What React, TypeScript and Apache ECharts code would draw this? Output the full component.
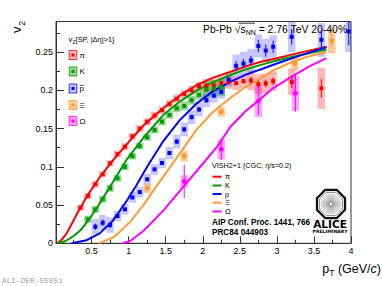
import React, { useEffect, useRef } from "react";
import * as echarts from "echarts";

// ---------- axes ----------
const xMajor = [0.5, 1, 1.5, 2, 2.5, 3, 3.5, 4];
const xMinor = [0.25, 0.75, 1.25, 1.75, 2.25, 2.75, 3.25, 3.75];
const yMajor = [0, 0.05, 0.1, 0.15, 0.2, 0.25];
const yMinor = [0.025, 0.075, 0.125, 0.175, 0.225, 0.275];

// ---------- pions ----------
const piPt = [0.35, 0.45, 0.55, 0.65, 0.75, 0.85, 0.95, 1.05, 1.15, 1.25, 1.35, 1.45, 1.55, 1.65, 1.75, 1.85, 1.95, 2.05, 2.15, 2.25, 2.35, 2.45, 2.55, 2.65, 2.75, 2.85, 2.95, 3.2, 3.6];
const piV2 = [0.0465, 0.0618, 0.0771, 0.0902, 0.1046, 0.1167, 0.1263, 0.14, 0.15, 0.159, 0.167, 0.174, 0.182, 0.189, 0.195, 0.2, 0.205, 0.206, 0.2065, 0.2095, 0.211, 0.2095, 0.212, 0.213, 0.208, 0.209, 0.212, 0.211, 0.2026];
const piSys = [0.004, 0.004, 0.004, 0.004, 0.004, 0.0045, 0.0045, 0.0045, 0.0045, 0.0045, 0.005, 0.005, 0.005, 0.0055, 0.0055, 0.006, 0.006, 0.009, 0.009, 0.009, 0.009, 0.009, 0.009, 0.013, 0.013, 0.013, 0.013, 0.017, 0.027];
const piStat = [0.001, 0.001, 0.001, 0.001, 0.001, 0.001, 0.001, 0.001, 0.001, 0.0015, 0.0015, 0.0015, 0.0015, 0.002, 0.002, 0.002, 0.002, 0.003, 0.003, 0.003, 0.003, 0.003, 0.003, 0.005, 0.005, 0.005, 0.005, 0.008, 0.012];

// ---------- kaons ----------
const kPt = [0.45, 0.55, 0.65, 0.75, 0.85, 0.95, 1.05, 1.15, 1.25, 1.35, 1.45, 1.55, 1.65, 1.75, 1.85, 1.95, 2.05, 2.15, 2.25];
const kV2 = [0.0314, 0.0444, 0.0575, 0.0719, 0.085, 0.1, 0.114, 0.127, 0.1386, 0.148, 0.159, 0.1677, 0.1765, 0.1795, 0.187, 0.194, 0.201, 0.2026, 0.204];
const kSys = [0.0045, 0.0045, 0.0045, 0.0045, 0.0045, 0.0045, 0.0045, 0.0045, 0.0045, 0.0045, 0.005, 0.005, 0.005, 0.006, 0.006, 0.006, 0.011, 0.011, 0.011];
const kStat = [0.001, 0.001, 0.001, 0.001, 0.001, 0.001, 0.001, 0.001, 0.001, 0.001, 0.001, 0.001, 0.001, 0.002, 0.002, 0.002, 0.003, 0.003, 0.003];

// ---------- antiprotons ----------
const pPt = [0.55, 0.65, 0.75, 0.85, 0.95, 1.05, 1.15, 1.25, 1.35, 1.45, 1.55, 1.65, 1.75, 1.85, 1.95, 2.05, 2.15, 2.25, 2.35, 2.45, 2.55, 2.65, 2.75, 2.85, 2.95, 3.2, 3.6, 3.97];
const pV2 = [0.0217, 0.0269, 0.0239, 0.0357, 0.0444, 0.06, 0.067, 0.0837, 0.0967, 0.105, 0.118, 0.133, 0.149, 0.165, 0.175, 0.187, 0.193, 0.198, 0.214, 0.232, 0.235, 0.239, 0.258, 0.252, 0.257, 0.27, 0.266, 0.277];
const pSys = [0.01, 0.01, 0.01, 0.007, 0.007, 0.007, 0.007, 0.007, 0.007, 0.007, 0.008, 0.009, 0.009, 0.009, 0.009, 0.009, 0.009, 0.009, 0.009, 0.015, 0.015, 0.015, 0.015, 0.015, 0.015, 0.02, 0.022, 0.027];
const pStat = [0.004, 0.004, 0.004, 0.002, 0.002, 0.002, 0.002, 0.002, 0.002, 0.002, 0.002, 0.003, 0.003, 0.003, 0.003, 0.003, 0.003, 0.003, 0.003, 0.006, 0.006, 0.006, 0.008, 0.008, 0.008, 0.01, 0.012, 0.018];

// ---------- Xi ----------
const xiPt = [1.25, 1.75, 2.25, 3.24, 3.74];
const xiV2 = [0.0719, 0.114, 0.172, 0.235, 0.265];
const xiSys = [0.006, 0.007, 0.0065, 0.009, 0.017];
const xiStat = [0.004, 0.004, 0.004, 0.005, 0.008];

// ---------- Omega ----------
const omPt = [1.75, 2.25, 2.75, 3.25];
const omV2 = [0.081, 0.123, 0.186, 0.196];
const omSys = [0.008, 0.013, 0.021, 0.023];
const omStat = [0.022, 0.014, 0.018, 0.024];

// ---------- VISH2+1 curves ----------
const piCurveX = [0.04, 0.1, 0.164, 0.23, 0.3, 0.434, 0.614, 0.793, 0.97, 1.2, 1.468, 1.7, 1.919, 2.15, 2.368, 2.6, 2.773, 3.0, 3.3, 3.67];
const piCurveY = [0, 0.005, 0.013, 0.025, 0.038, 0.061, 0.087, 0.109, 0.129, 0.154, 0.177, 0.194, 0.207, 0.217, 0.224, 0.232, 0.237, 0.242, 0.249, 0.257];
const kCurveX = [0.05, 0.15, 0.25, 0.35, 0.48, 0.61, 0.79, 0.97, 1.2, 1.47, 1.7, 1.92, 2.15, 2.37, 2.6, 2.77, 3.0, 3.3, 3.67];
const kCurveY = [0, 0.003, 0.009, 0.017, 0.033, 0.052, 0.0805, 0.109, 0.138, 0.168, 0.186, 0.2, 0.211, 0.22, 0.228, 0.233, 0.239, 0.246, 0.2535];
const pCurveX = [0.23, 0.43, 0.61, 0.79, 0.97, 1.1, 1.2, 1.3, 1.47, 1.69, 1.92, 2.14, 2.37, 2.57, 2.77, 3.0, 3.3, 3.67];
const pCurveY = [0, 0.004, 0.013, 0.03, 0.055, 0.075, 0.092, 0.108, 0.134, 0.161, 0.183, 0.199, 0.211, 0.22, 0.227, 0.235, 0.245, 0.2565];
const xiCurveX = [0.6, 0.8, 1.02, 1.2, 1.4, 1.65, 1.78, 1.92, 2.14, 2.37, 2.57, 2.77, 2.95, 3.2, 3.45, 3.67];
const xiCurveY = [0, 0.008, 0.028, 0.05, 0.078, 0.112, 0.13, 0.149, 0.172, 0.19, 0.204, 0.215, 0.226, 0.237, 0.245, 0.25];
const omCurveX = [0.92, 1.02, 1.2, 1.47, 1.74, 2.0, 2.2, 2.37, 2.57, 2.77, 2.95, 3.2, 3.45, 3.67];
const omCurveY = [0, 0.003, 0.016, 0.043, 0.074, 0.104, 0.127, 0.152, 0.172, 0.188, 0.203, 0.218, 0.232, 0.242];

const speciesLabels = ["π", "K", "p", "Ξ", "Ω"];
const colors = ["#ff0000", "#009a00", "#0000ff", "#ff9933", "#ff00ff"];
const boxFills = ["rgba(255,0,0,0.28)", "rgba(0,154,0,0.42)", "rgba(0,0,255,0.22)", "rgba(255,153,51,0.5)", "rgba(255,0,255,0.36)"];

const FONT = "Liberation Sans";

function boxSeries(pt: number[], v: number[], s: number[], fill: string) {
  return {
    type: "custom",
    clip: true,
    z: 1,
    dimensions: ["x", "y", "s"],
    encode: { x: 0, y: 1 },
    data: pt.map((x, i) => [x, v[i], s[i]]),
    renderItem: (_p: any, api: any) => {
      const x = api.value(0), y = api.value(1), e = api.value(2);
      const a = api.coord([x - 0.05, y + e]);
      const b = api.coord([x + 0.05, y - e]);
      return { type: "rect", shape: { x: a[0], y: a[1], width: b[0] - a[0], height: b[1] - a[1] }, style: { fill } };
    },
  };
}
function errSeries(pt: number[], v: number[], s: number[], color: string) {
  return {
    type: "custom",
    clip: true,
    z: 3,
    dimensions: ["x", "y", "s"],
    encode: { x: 0, y: 1 },
    data: pt.map((x, i) => [x, v[i], s[i]]),
    renderItem: (_p: any, api: any) => {
      const x = api.value(0), y = api.value(1), e = api.value(2);
      const a = api.coord([x, y - e]);
      const b = api.coord([x, y + e]);
      return { type: "line", shape: { x1: a[0], y1: a[1], x2: b[0], y2: b[1] }, style: { stroke: color, lineWidth: 1 } };
    },
  };
}
function markSeries(pt: number[], v: number[], color: string, symbol: string, size: number) {
  return {
    type: "scatter", z: 4, symbol, symbolSize: size, clip: true,
    itemStyle: { color, opacity: 1 },
    data: pt.map((x, i) => [x, v[i]]),
  };
}
function curveSeries(xs: number[], ys: number[], color: string) {
  return {
    type: "line", z: 2, showSymbol: false, smooth: false,
    lineStyle: { color, width: 2 },
    data: xs.map((x, i) => [x, ys[i]]),
  };
}

function txt(x: number, y: number, text: string, size: number, extra: any = {}) {
  return {
    type: "text", x, y, silent: true, z: 10,
    style: {
      text, fontSize: size, fontFamily: FONT, fill: "#000",
      align: "left", textAlign: "left", verticalAlign: "middle", textVerticalAlign: "middle",
      ...extra,
    },
  };
}

function aliceLogo() {
  const cx = 331, cy = 204;
  const oct = (r: number) => Array.from({ length: 8 }, (_, i) => {
    const a = Math.PI / 8 + (i * Math.PI) / 4;
    return [cx + r * Math.cos(a), cy + r * Math.sin(a)];
  });
  const rays = Array.from({ length: 28 }, (_, i) => {
    const a = (i * 2 * Math.PI) / 28;
    return {
      type: "line", z: 10,
      shape: { x1: cx + 1.5 * Math.cos(a), y1: cy + 1.5 * Math.sin(a), x2: cx + 10.5 * Math.cos(a), y2: cy + 10.5 * Math.sin(a) },
      style: { stroke: "#777", lineWidth: 0.6 },
    };
  });
  return [
    { type: "polygon", z: 10, shape: { points: oct(15.2) }, style: { fill: "#fff", stroke: "#111", lineWidth: 2.2 } },
    { type: "polygon", z: 10, shape: { points: oct(12.6) }, style: { fill: "none", stroke: "#333", lineWidth: 0.6 } },
    ...rays,
    txt(330, 223.5, "ALICE", 10.5, { fontFamily: "DejaVu Sans", fontWeight: "bold", align: "center", textAlign: "center" }),
    txt(330, 231.5, "PRELIMINARY", 4.6, { fontFamily: "DejaVu Sans", fontWeight: "bold", align: "center", textAlign: "center" }),
  ];
}

function buildOption() {
  const legendY = [55, 71.5, 88.5, 105, 121];
  const modelY = [176.7, 185.5, 194, 202.7, 211.5];
  const legend: any[] = [];
  legendY.forEach((y, i) => {
    legend.push({ type: "rect", z: 10, shape: { x: 69.2, y: y - 4.5, width: 7.6, height: 9 }, style: { fill: boxFills[i], stroke: colors[i], lineWidth: 0.8 } });
    if (i < 3) legend.push({ type: "rect", z: 11, shape: { x: 71.5, y: y - 1.5, width: 3, height: 3 }, style: { fill: colors[i] } });
    else legend.push({ type: "circle", z: 11, shape: { cx: 73, cy: y, r: 1.8 }, style: { fill: colors[i] } });
    legend.push(txt(79.5, y, speciesLabels[i], 8));
  });
  // bar over p in the data legend
  legend.push({ type: "line", z: 10, shape: { x1: 79.7, y1: 85.3, x2: 84, y2: 85.3 }, style: { stroke: "#000", lineWidth: 0.7 } });
  modelY.forEach((y, i) => {
    legend.push({ type: "line", z: 10, shape: { x1: 212.5, y1: y, x2: 221.5, y2: y }, style: { stroke: colors[i], lineWidth: 2 } });
    legend.push(txt(225, y, speciesLabels[i], 7.5));
  });

  const graphic: any[] = [
    // y title
    { type: "text", x: 16, y: 29.7, rotation: Math.PI / 2, z: 10, style: { text: "v", fontSize: 13, fontFamily: FONT, fill: "#000", align: "center", textAlign: "center", verticalAlign: "middle", textVerticalAlign: "middle" } },
    { type: "text", x: 21.5, y: 23.3, rotation: Math.PI / 2, z: 10, style: { text: "2", fontSize: 8.5, fontFamily: FONT, fill: "#000", align: "center", textAlign: "center", verticalAlign: "middle", textVerticalAlign: "middle" } },
    // x title
    {
      type: "text", x: 381, y: 269, z: 10,
      style: {
        text: "{a|p}{s|T}{a| (GeV/}{i|c}{a|)}", align: "right", textAlign: "right", verticalAlign: "middle", textVerticalAlign: "middle",
        rich: {
          a: { fontSize: 12.5, fontFamily: FONT, fill: "#000", lineHeight: 16, verticalAlign: "middle" },
          i: { fontSize: 12.5, fontFamily: FONT, fontStyle: "italic", fill: "#000", lineHeight: 16, verticalAlign: "middle" },
          s: { fontSize: 8.5, fontFamily: FONT, fill: "#000", lineHeight: 16, verticalAlign: "bottom" },
        },
      },
    },
    // data legend header
    txt(68.5, 39.5, "v", 7.5),
    txt(72.4, 41.5, "2", 5.3),
    txt(75.2, 39.5, "{SP, |Δη|>1}", 7.4),
    // system label
    {
      type: "text", x: 203, y: 29, z: 10,
      style: {
        text: "{a|Pb-Pb }{a|√}{a|s}{s|NN}{a| = 2.76 TeV 20-40%}", align: "left", textAlign: "left", verticalAlign: "middle", textVerticalAlign: "middle",
        rich: {
          a: { fontSize: 10.4, fontFamily: FONT, fill: "#000", lineHeight: 14, verticalAlign: "middle" },
          s: { fontSize: 7, fontFamily: FONT, fill: "#000", lineHeight: 14, verticalAlign: "bottom" },
        },
      },
    },
    { type: "line", z: 10, shape: { x1: 238.5, y1: 23.2, x2: 255, y2: 23.2 }, style: { stroke: "#000", lineWidth: 0.8 } },
    // model legend
    txt(212, 165, "VISH2+1 (CGC, η/s=0.2)", 7.2),
    ...legend,
    txt(212, 222, "AIP Conf. Proc. 1441, 766", 8.2, { fontWeight: "bold" }),
    txt(212, 232, "PRC84 044903", 8.2, { fontWeight: "bold" }),
    ...aliceLogo(),
    txt(2, 280.5, "ALI-DER-55851", 7.8, { fontFamily: "Liberation Mono", fill: "#a0a0a0" }),
  ];

  const axisCommon = { lineStyle: { color: "#333", width: 1 } };
  return {
    animation: false,
    backgroundColor: "#fff",
    grid: { left: 56, right: 31, top: 21.5, bottom: 42.7, show: true, borderColor: "#333", borderWidth: 1, backgroundColor: "transparent" },
    xAxis: [
      {
        type: "value", min: 0.02, max: 4, position: "bottom",
        axisLine: { show: true, ...axisCommon },
        axisTick: { show: true, inside: true, length: 7, customValues: xMajor, lineStyle: { color: "#333" } },
        axisLabel: { show: true, customValues: xMajor, fontSize: 9, fontFamily: FONT, color: "#000", margin: 3 },
        splitLine: { show: false },
      },
      {
        type: "value", min: 0.02, max: 4, position: "bottom",
        axisLine: { show: false },
        axisTick: { show: true, inside: true, length: 3.5, customValues: xMinor, lineStyle: { color: "#333" } },
        axisLabel: { show: false },
        splitLine: { show: false },
      },
    ],
    yAxis: [
      {
        type: "value", min: 0, max: 0.29, position: "left",
        axisLine: { show: true, ...axisCommon },
        axisTick: { show: true, inside: true, length: 8, customValues: yMajor, lineStyle: { color: "#333" } },
        axisLabel: { show: true, customValues: yMajor, fontSize: 9, fontFamily: FONT, color: "#000", margin: 3 },
        splitLine: { show: false },
      },
      {
        type: "value", min: 0, max: 0.29, position: "left",
        axisLine: { show: false },
        axisTick: { show: true, inside: true, length: 4, customValues: yMinor, lineStyle: { color: "#333" } },
        axisLabel: { show: false },
        splitLine: { show: false },
      },
    ],
    series: [
      boxSeries(piPt, piV2, piSys, boxFills[0]),
      boxSeries(kPt, kV2, kSys, boxFills[1]),
      boxSeries(pPt, pV2, pSys, boxFills[2]),
      boxSeries(xiPt, xiV2, xiSys, boxFills[3]),
      boxSeries(omPt, omV2, omSys, boxFills[4]),
      curveSeries(piCurveX, piCurveY, colors[0]),
      curveSeries(kCurveX, kCurveY, colors[1]),
      curveSeries(pCurveX, pCurveY, colors[2]),
      curveSeries(xiCurveX, xiCurveY, colors[3]),
      curveSeries(omCurveX, omCurveY, colors[4]),
      errSeries(piPt, piV2, piStat, colors[0]),
      errSeries(kPt, kV2, kStat, colors[1]),
      errSeries(pPt, pV2, pStat, colors[2]),
      errSeries(xiPt, xiV2, xiStat, colors[3]),
      errSeries(omPt, omV2, omStat, colors[4]),
      markSeries(piPt, piV2, colors[0], "rect", 4),
      markSeries(kPt, kV2, colors[1], "rect", 4),
      markSeries(pPt, pV2, colors[2], "rect", 4),
      markSeries(xiPt, xiV2, colors[3], "circle", 5),
      markSeries(omPt, omV2, colors[4], "circle", 5),
    ],
    graphic,
  };
}

export default function App() {
  const ref = useRef<HTMLDivElement>(null);
  useEffect(() => {
    document.body.style.margin = "0";
    const chart = echarts.init(ref.current!, null, { renderer: "svg" });
    chart.setOption(buildOption() as any);
    return () => chart.dispose();
  }, []);
  return <div ref={ref} style={{ width: 382, height: 286 }} />;
}
